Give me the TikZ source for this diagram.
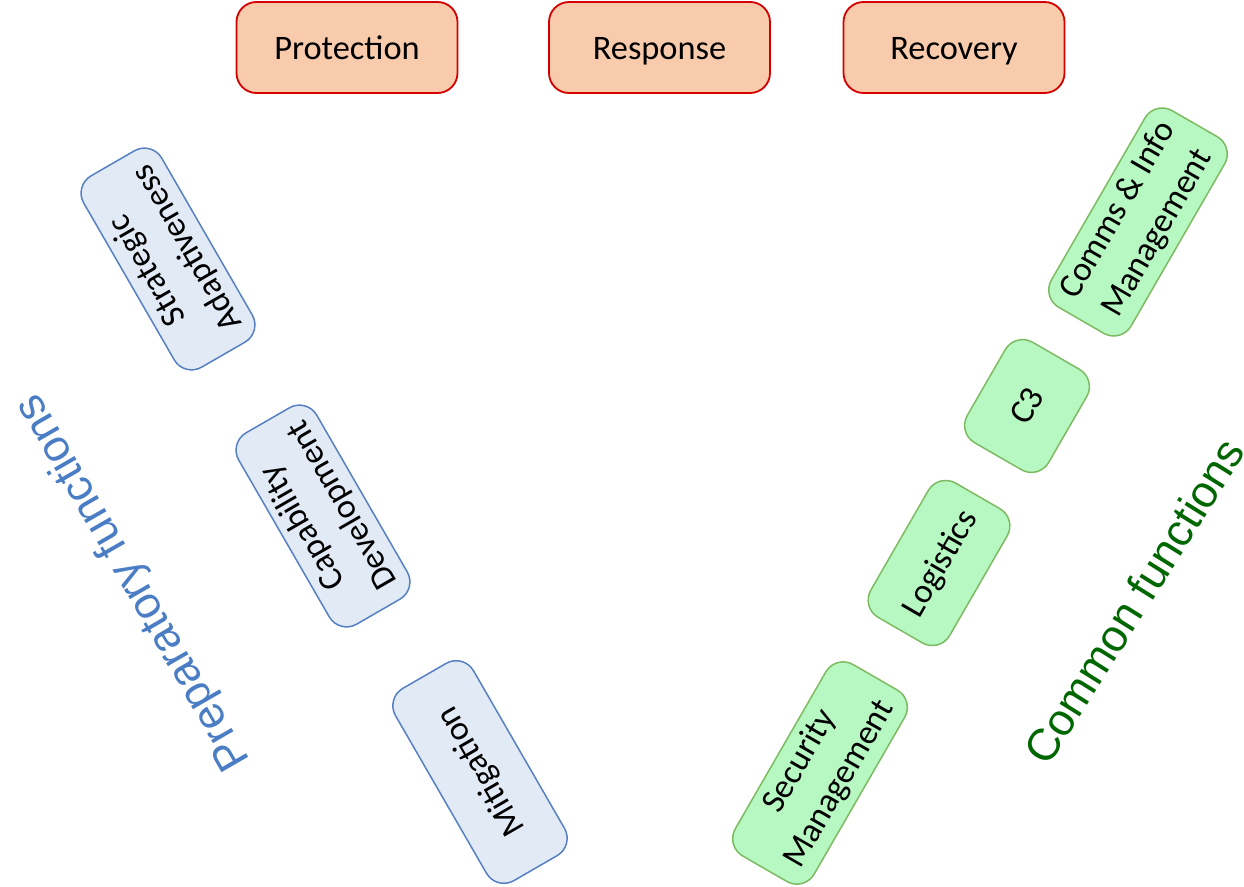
\documentclass[tikz,border=0pt]{standalone}
\usepackage{fontspec}
\setmainfont{Carlito}
\newfontfamily\labelfont{Liberation Sans}
\definecolor{peachfill}{HTML}{F8CBAD}
\definecolor{peachline}{HTML}{D40000}
\definecolor{bluefill}{HTML}{E2EAF6}
\definecolor{blueline}{HTML}{5580C4}
\definecolor{greenfill}{HTML}{B7F7C2}
\definecolor{greenline}{HTML}{7DBB62}
\definecolor{preplabel}{HTML}{4A7DC4}
\definecolor{commonlabel}{HTML}{006600}
\tikzset{
  boxfont/.style={font=\fontsize{34.5}{46}\selectfont},
  oneline/.style={text height=28bp, text depth=6bp},
  phasebox/.style={draw=peachline, fill=peachfill, line width=1.8bp, rounded corners=20bp,
    minimum width=221bp, minimum height=91bp, inner sep=0pt, boxfont, text height=30bp, text depth=6bp},
  prepbox/.style={draw=blueline, fill=bluefill, line width=1.5bp, rounded corners=20bp,
    minimum height=90bp, inner sep=0pt, align=center, rotate=120, boxfont},
  commonbox/.style={draw=greenline, fill=greenfill, line width=1.5bp, rounded corners=20bp,
    minimum height=91bp, inner sep=0pt, align=center, rotate=60, boxfont},
  sidelabel/.style={font=\labelfont\fontsize{45}{54}\selectfont, inner sep=0pt}
}
\begin{document}
\begin{tikzpicture}[x=1bp,y=-1bp]
\useasboundingbox (0,0) rectangle (1244,887);
% phases
\node[phasebox] (prot) at (347,47.5) {Protection};
\node[phasebox] (resp) at (659.5,47.5) {Response};
\node[phasebox] (reco) at (954,47.5) {Recovery};
% preparatory functions
\node[prepbox, minimum width=221bp] (strat) at (168,259) {Strategic\\Adaptiveness};
\node[prepbox, minimum width=221bp] (capdev) at (323,516) {Capability\\Development};
\node[prepbox, oneline, minimum width=222bp] (mitig) at (480,772) {Mitigation};
% common functions
\node[commonbox, minimum width=221bp] (secman) at (820,773) {Security\\Management};
\node[commonbox, oneline, minimum width=155bp] (logis) at (939,563) {Logistics};
\node[commonbox, oneline, minimum width=116bp, minimum height=94bp] (cthree) at (1027,406) {C3};
\node[commonbox, minimum width=227bp, minimum height=92bp] (comms) at (1138,222) {Comms \& Info\\Management};
% side labels
\node[sidelabel, text=preplabel, rotate=120] (preplab) at (134,582) {Preparatory functions};
\node[sidelabel, text=commonlabel, rotate=58] (commonlab) at (1134,601) {Common functions};
\end{tikzpicture}
\end{document}
